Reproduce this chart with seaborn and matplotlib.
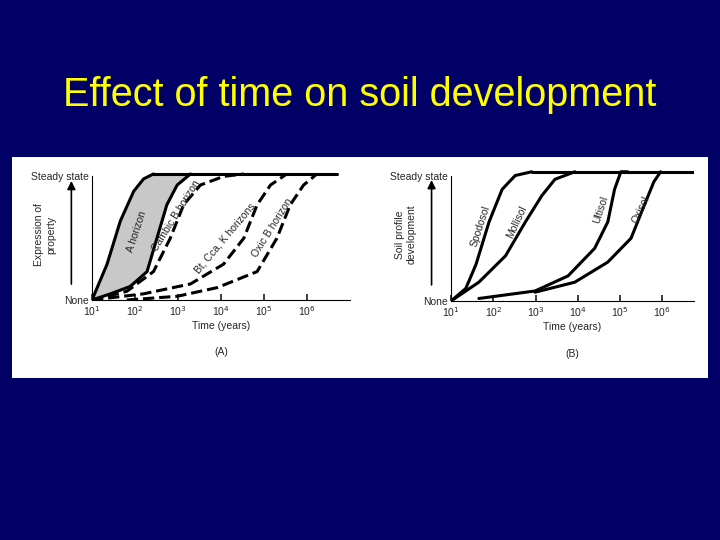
import matplotlib
matplotlib.use("Agg")
import matplotlib.pyplot as plt
import seaborn as sns
import numpy as np

sns.set_theme(style="white")
plt.rcParams['font.family'] = ['Liberation Sans', 'DejaVu Sans']

# log10(time in years) and expression fraction (0=None, 1=Steady state)
a_left_x = [1, 1.35, 1.66, 1.97, 2.2, 2.43]
a_left_y = [0, 0.29, 0.64, 0.88, 0.98, 1.02]
a_right_x = [1, 1.43, 1.89, 2.28, 2.51, 2.74, 2.98, 3.29]
a_right_y = [0, 0.05, 0.11, 0.23, 0.5, 0.77, 0.93, 1.02]
cambic_x = [1, 1.81, 2.43, 2.82, 3.13, 3.52, 4.06, 4.53]
cambic_y = [0, 0.07, 0.23, 0.5, 0.77, 0.93, 1.0, 1.02]
bt_x = [1, 2.2, 3.29, 4.06, 4.53, 4.84, 5.15, 5.53]
bt_y = [0, 0.05, 0.13, 0.29, 0.5, 0.77, 0.93, 1.02]
oxic_x = [1.81, 2.98, 3.91, 4.84, 5.3, 5.61, 5.92, 6.23]
oxic_y = [0, 0.03, 0.1, 0.23, 0.5, 0.77, 0.93, 1.02]

spod_x = [1, 1.35, 1.59, 1.9, 2.21, 2.52, 2.91]
spod_y = [0, 0.1, 0.29, 0.63, 0.89, 1.0, 1.03]
moll_x = [1, 1.66, 2.29, 2.76, 3.15, 3.46, 3.93]
moll_y = [0, 0.15, 0.36, 0.63, 0.84, 0.97, 1.03]
ult_x = [1.66, 2.99, 3.77, 4.4, 4.71, 4.87, 5.02, 5.18]
ult_y = [0.02, 0.08, 0.2, 0.42, 0.63, 0.89, 1.03, 1.03]
oxi_x = [2.99, 3.93, 4.71, 5.26, 5.57, 5.8, 5.96]
oxi_y = [0.07, 0.15, 0.31, 0.5, 0.76, 0.95, 1.03]

tick_pos = [1, 2, 3, 4, 5, 6]
tick_labels = ["10$^1$", "10$^2$", "10$^3$", "10$^4$", "10$^5$", "10$^6$"]

fig = plt.figure(figsize=(7.2, 5.4), dpi=100)
fig.patch.set_facecolor("#000066")
fig.text(0.5, 1 - 95/540, "Effect of time on soil development", color="#ffff00",
         fontsize=28.5, ha="center", va="center")

bg = fig.add_axes([12/720, 1 - 378/540, 696/720, 221/540], zorder=0)
bg.set_facecolor("white")
bg.set_xticks([]); bg.set_yticks([])
for s in bg.spines.values():
    s.set_visible(False)

def line(ax, x, y, dashed=False):
    sns.lineplot(x=x, y=y, ax=ax, sort=False, estimator=None, color="black",
                 linewidth=2.2, linestyle="--" if dashed else "-")

def setup(ax, xmax, ylab, letter):
    ax.set_facecolor("none")
    ax.set_xlim(1, xmax)
    ax.set_ylim(0, 1.06)
    for s in ["top", "right"]:
        ax.spines[s].set_visible(False)
    ax.spines["left"].set_bounds(0, 1.0)
    for s in ["left", "bottom"]:
        ax.spines[s].set_color("black"); ax.spines[s].set_linewidth(0.8)
    ax.set_xticks(tick_pos)
    ax.set_xticklabels(tick_labels, fontsize=7.5)
    ax.tick_params(axis="x", direction="in", length=4, pad=3, bottom=True)
    ax.set_yticks([0, 1])
    ax.set_yticklabels(["None", "Steady state"], fontsize=7.5)
    ax.tick_params(axis="y", length=0, pad=2)
    ax.set_xlabel("Time (years)", fontsize=7.5, labelpad=2)
    ax.set_ylabel(ylab, fontsize=7.5)
    ax.yaxis.set_label_coords(-0.14, 0.5)
    ax.annotate("", xy=(-0.08, 0.93), xytext=(-0.08, 0.1), xycoords="axes fraction",
                arrowprops=dict(arrowstyle="-|>", color="black", lw=1.2))
    ax.text(0.5, -0.42, letter, transform=ax.transAxes, ha="center", fontsize=7.5)

axA = fig.add_axes([92/720, 1 - 300/540, 258/720, 131/540], zorder=2)
ys = np.linspace(0, 1.02, 50)
axA.fill_betweenx(ys, np.interp(ys, a_left_y, a_left_x), np.interp(ys, a_right_y, a_right_x),
                  color="#c8c8c8", zorder=0)
line(axA, a_left_x, a_left_y); line(axA, a_right_x, a_right_y)
line(axA, cambic_x, cambic_y, True); line(axA, bt_x, bt_y, True); line(axA, oxic_x, oxic_y, True)
line(axA, [2.43, 6.7], [1.02, 1.02])
setup(axA, 7.0, "Expression of\nproperty", "(A)")
for txt, x, y, r in [("A horizon", 2.05, 0.55, 72), ("Cambic B horizon", 2.95, 0.68, 58),
                     ("Bt, Cca, K horizons", 4.1, 0.5, 50), ("Oxic B horizon", 5.2, 0.58, 58)]:
    axA.text(x, y, txt, rotation=r, fontsize=7.5, ha="center", va="center")

axB = fig.add_axes([451/720, 1 - 301/540, 243/720, 133/540], zorder=2)
line(axB, spod_x, spod_y); line(axB, moll_x, moll_y); line(axB, ult_x, ult_y); line(axB, oxi_x, oxi_y)
line(axB, [2.91, 6.74], [1.03, 1.03])
setup(axB, 6.75, "Soil profile\ndevelopment", "(B)")
for txt, x, y, r in [("Spodosol", 1.7, 0.6, 72), ("Mollisol", 2.55, 0.63, 65),
                     ("Ultisol", 4.55, 0.73, 72), ("Oxisol", 5.5, 0.73, 65)]:
    axB.text(x, y, txt, rotation=r, fontsize=7.5, ha="center", va="center")

fig.savefig("out.png", dpi=100, facecolor=fig.get_facecolor())
